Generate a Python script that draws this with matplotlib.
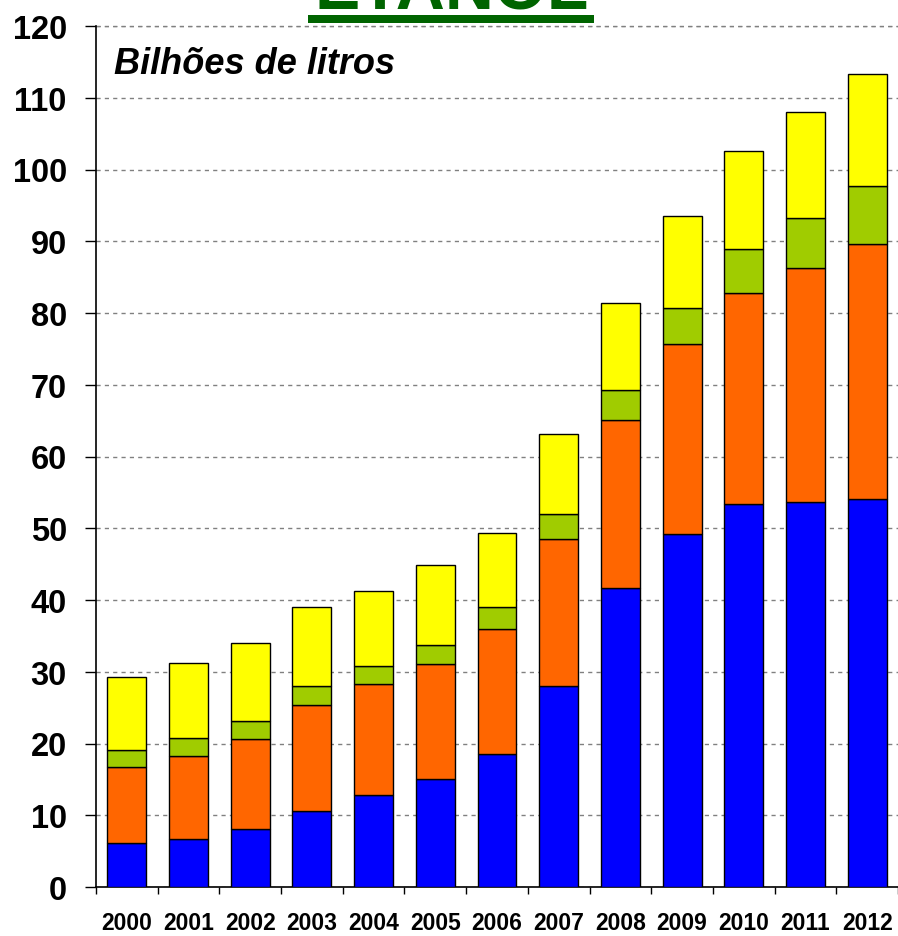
import matplotlib
matplotlib.use("Agg")
import matplotlib.pyplot as plt
import numpy as np

years = ["2000", "2001", "2002", "2003", "2004", "2005", "2006",
         "2007", "2008", "2009", "2010", "2011", "2012"]
# segment values (bottom -> top)
blue   = [6.1, 6.7, 8.1, 10.6, 12.8, 15.1, 18.5, 28.0, 41.7, 49.2, 53.4, 53.7, 54.1]
orange = [10.6, 11.6, 12.5, 14.8, 15.5, 16.0, 17.5, 20.5, 23.4, 26.5, 29.4, 32.6, 35.5]
green  = [2.4, 2.5, 2.5, 2.6, 2.5, 2.6, 3.0, 3.5, 4.2, 5.0, 6.1, 6.9, 8.1]
yellow = [10.2, 10.4, 10.9, 11.0, 10.5, 11.2, 10.3, 11.1, 12.1, 12.8, 13.7, 14.8, 15.6]
yticks = list(range(0, 121, 10))

plt.rcParams['font.family'] = ['Liberation Sans', 'DejaVu Sans']

W, H = 898, 937
fig = plt.figure(figsize=(W/100, H/100), dpi=100)
ax = fig.add_axes([96/W, 1-888/H, (898-96)/W, (888-27)/H])

x = np.arange(len(years))
colors = ["#0000FF", "#FF6600", "#A0CC00", "#FFFF00"]
bottom = np.zeros(len(years))
for vals, c in zip([blue, orange, green, yellow], colors):
    ax.bar(x, vals, bottom=bottom, width=0.63, color=c, edgecolor="black",
           linewidth=1.0, zorder=3)
    bottom += np.array(vals)

ax.set_xlim(-0.5, len(years)-0.5)
ax.set_ylim(0, 120)
ax.set_yticks(yticks)
ax.set_yticklabels([str(v) for v in yticks], fontsize=23.5, fontweight='bold')
ax.yaxis.grid(True, linestyle=(0, (3, 3)), color="#808080", linewidth=1.0, zorder=0)
ax.set_axisbelow(True)

ax.set_xticks(x)
ax.set_xticklabels(years, fontsize=16.5, fontweight='bold')
ax.set_xticks(np.arange(-0.5, len(years)), minor=True)
ax.tick_params(axis='x', which='major', length=0, pad=17)
ax.tick_params(axis='x', which='minor', length=5, width=1, direction='out')
ax.tick_params(axis='y', length=8, width=1, direction='out', pad=13)

for s in ['top', 'right']:
    ax.spines[s].set_visible(False)
ax.spines['left'].set_linewidth(1.2)
ax.spines['bottom'].set_linewidth(1.2)
ax.axhline(120, color="#808080", linestyle=(0, (3, 3)), linewidth=1.0, clip_on=False)

fig.text(114/W, 1-74/H, "Bilhões de litros",
         fontsize=26, fontweight='bold', fontstyle='italic', va='baseline', ha='left')

fig.text(452/W, 1-10/H, "ETANOL", color="#006400", fontsize=49, fontweight='bold',
         ha='center', va='baseline')
fig.add_artist(plt.Rectangle((308/W, 1-24/H), (594-308)/W, 8/H,
                             transform=fig.transFigure, color="#006400", lw=0))

fig.savefig("out.png", dpi=100)
